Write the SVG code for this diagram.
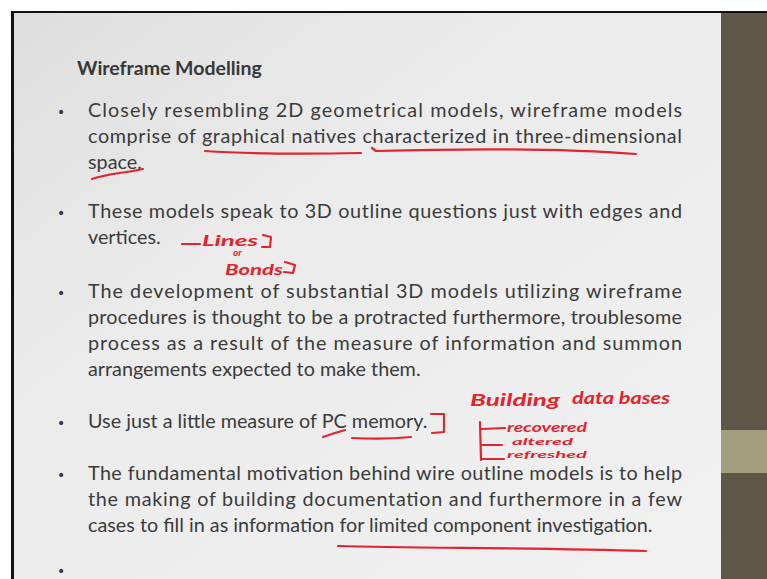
<svg xmlns="http://www.w3.org/2000/svg" width="767" height="579" viewBox="0 0 767 579">
  <defs>
    <linearGradient id="slideBg" x1="0" y1="0" x2="1" y2="1">
      <stop offset="0" stop-color="#dedede"/>
      <stop offset="0.35" stop-color="#ebebeb"/>
      <stop offset="1" stop-color="#f1f1f1"/>
    </linearGradient>
    <style>
      .body { font-family: Lato, "Open Sans", sans-serif; font-size: 19.8px; fill: #3b3b3b; }
      .title { font-family: Lato, "Open Sans", sans-serif; font-size: 19.5px; font-weight: bold; fill: #383838; }
      .bullet { font-family: "DejaVu Sans", sans-serif; font-size: 14px; fill: #3a3a3a; }
      .ink { fill: none; stroke: #e02530; stroke-width: 2.2; stroke-linecap: round; stroke-linejoin: round; }
      .hand { font-family: Lato, sans-serif; font-style: italic; font-weight: bold; fill: #e8202a; }
    </style>
  </defs>

  <!-- page frame -->
  <rect x="0" y="0" width="767" height="579" fill="#ffffff"/>
  <rect x="12" y="12" width="755" height="567" fill="url(#slideBg)"/>
  <rect x="721" y="12" width="46" height="567" fill="#5e5747"/>
  <rect x="721" y="430" width="46" height="43" fill="#a29f80"/>
  <rect x="11" y="11" width="756" height="2" fill="#111111"/>
  <rect x="11" y="11" width="3" height="568" fill="#111111"/>

  <!-- slide text -->
  <g id="title">
    <text class="title" x="77" y="75">Wireframe Modelling</text>
  </g>

  <g id="bullet1">
    <text class="bullet" x="57" y="117">•</text>
    <text class="body" x="88" y="117" textLength="594" lengthAdjust="spacing">Closely resembling 2D geometrical models, wireframe models</text>
    <text class="body" x="88" y="143" textLength="594" lengthAdjust="spacing">comprise of graphical natives characterized in three-dimensional</text>
    <text class="body" x="88" y="169">space.</text>
  </g>

  <g id="bullet2">
    <text class="bullet" x="57" y="218">•</text>
    <text class="body" x="88" y="218" textLength="594" lengthAdjust="spacing">These models speak to 3D outline questions just with edges and</text>
    <text class="body" x="88" y="244">vertices.</text>
  </g>

  <g id="bullet3">
    <text class="bullet" x="57" y="298">•</text>
    <text class="body" x="88" y="298" textLength="594" lengthAdjust="spacing">The development of substantial 3D models utilizing wireframe</text>
    <text class="body" x="88" y="324" textLength="594" lengthAdjust="spacing">procedures is thought to be a protracted furthermore, troublesome</text>
    <text class="body" x="88" y="350" textLength="594" lengthAdjust="spacing">process as a result of the measure of information and summon</text>
    <text class="body" x="88" y="376">arrangements expected to make them.</text>
  </g>

  <g id="bullet4">
    <text class="bullet" x="57" y="428">•</text>
    <text class="body" x="88" y="428">Use just a little measure of PC memory.</text>
  </g>

  <g id="bullet5">
    <text class="bullet" x="57" y="480">•</text>
    <text class="body" x="88" y="480" textLength="594" lengthAdjust="spacing">The fundamental motivation behind wire outline models is to help</text>
    <text class="body" x="88" y="506" textLength="594" lengthAdjust="spacing">the making of building documentation and furthermore in a few</text>
    <text class="body" x="88" y="532">cases to fill in as information for limited component investigation.</text>
  </g>

  <g id="bullet6">
    <text class="bullet" x="57" y="576">•</text>
  </g>

  <!-- red pen annotations -->
  <g id="annotations">
    <!-- underlines, bullet 1 -->
    <path class="ink" d="M205 151 C250 154 310 154 361 153"/>
    <path class="ink" d="M372 148 L376 151 C450 149 560 148 636 154"/>
    <path class="ink" d="M92 179 C105 174 125 173 143 169"/>

    <!-- lines or bonds note -->
    <path class="ink" d="M182 244 L200 244"/>
    <text class="hand" x="202" y="246" font-size="15" textLength="56" lengthAdjust="spacingAndGlyphs">Lines</text>
    <path class="ink" d="M263 235 L271 237 L270 247 L262 247"/>
    <text class="hand" x="233" y="256" font-size="10">or</text>
    <text class="hand" x="225" y="275" font-size="15" textLength="58" lengthAdjust="spacingAndGlyphs">Bonds</text>
    <path class="ink" d="M285 262 L295 265 L293 273 L284 272"/>

    <!-- PC memory -->
    <path class="ink" d="M323 437 C331 434 338 432 345 430"/>
    <path class="ink" d="M352 438 C370 439 392 439 411 437"/>
    <path class="ink" d="M431 414 L444 414 L444 432 L432 433"/>

    <!-- building data bases note -->
    <text class="hand" x="470" y="406" font-size="17" textLength="90" lengthAdjust="spacingAndGlyphs">Building</text>
    <text class="hand" x="572" y="404" font-size="17" textLength="98" lengthAdjust="spacingAndGlyphs">data bases</text>
    <path class="ink" d="M480 422 L481 460"/>
    <path class="ink" d="M481 429 L505 428"/>
    <text class="hand" x="507" y="432" font-size="13" textLength="80" lengthAdjust="spacingAndGlyphs">recovered</text>
    <path class="ink" d="M482 445 L502 445"/>
    <path class="ink" d="M482 459 L504 459"/>
    <text class="hand" x="512" y="445" font-size="10" textLength="61" lengthAdjust="spacingAndGlyphs">altered</text>
    <text class="hand" x="507" y="458" font-size="10" textLength="80" lengthAdjust="spacingAndGlyphs">refreshed</text>

    <!-- last underline -->
    <path class="ink" d="M338 546 C420 548 540 548 646 551"/>
  </g>
</svg>
